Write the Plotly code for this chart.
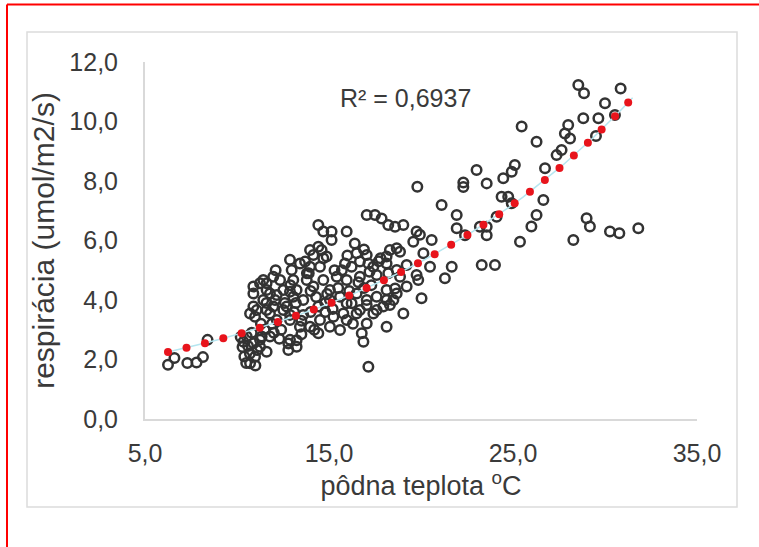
import plotly.graph_objects as go
import numpy as np

# ---- data ----
temp = [
    6.25, 6.6, 7.3, 7.8, 8.15, 8.4,
    10.2, 10.3, 10.35, 10.4, 10.5, 10.53, 10.6, 10.7, 10.71, 10.8, 10.9, 10.98, 11.0, 11.1,
    11.25, 11.25, 11.34, 11.5, 11.61, 11.79,
    10.89, 10.98, 10.71, 11.07, 11.43, 11.61, 12.07, 12.16, 12.52, 12.88, 12.16, 11.79, 11.97,
    12.79, 12.79, 12.88, 13.24, 13.24, 13.42, 13.5, 10.89, 11.43, 11.61, 10.89, 11.25, 11.61,
    11.97, 12.1, 12.34, 13.06, 12.52, 12.88, 12.7, 11.79, 12.88, 12.97, 13.42, 13.06, 12.88,
    11.3, 12.4, 12.0,
    13.97, 14.42, 14.6, 14.15, 14.69, 13.7, 13.97, 14.51, 14.87, 14.42, 14.69, 15.14, 15.14,
    15.96, 13.79, 14.15, 14.69, 15.05, 13.24, 13.6, 14.42, 15.05, 15.6, 15.96, 13.6, 13.97,
    14.42, 14.51, 15.05, 15.24, 15.6, 15.96, 14.8, 15.42, 15.96, 15.87, 13.2, 14.0, 14.8,
    15.3, 14.0,
    16.5, 17.05, 16.68, 17.14, 16.23, 17.41, 16.68, 17.59, 16.5, 17.05, 17.59, 16.68, 17.41,
    15.78, 16.5, 16.23, 17.05, 17.59, 17.05, 17.5, 17.86, 16.78, 16.87, 17.05, 17.14, 17.95,
    16.4, 16.9,
    18.22, 18.59, 19.04, 18.31, 18.68, 18.86, 18.13, 19.58, 19.76, 19.94, 18.13, 19.22, 18.68,
    18.22, 19.76, 18.86, 18.13, 18.59, 19.22, 18.68, 18.13, 18.5, 18.31, 19.04, 18.13, 19.85,
    20.03, 19.8,
    20.13, 20.49, 20.58, 21.12, 21.94, 21.94, 22.39, 21.67, 21.3, 22.3, 22.3,
    23.02, 23.57, 23.57, 23.57, 23.2, 23.3, 24.02, 24.11, 24.38, 24.74, 24.93, 24.47, 24.93,
    25.1, 25.47, 26.28, 26.74, 26.65, 26.28, 26.0, 25.38, 27.37, 27.64, 27.82, 28.0, 28.1,
    28.55, 28.86, 30.85, 30.0, 28.82, 29.64, 30.54, 29.51, 28.28, 29.0, 29.18, 30.27, 30.78,
    31.81,
    # extra points in the dense middle cluster
    11.9, 12.6, 13.1, 13.8, 14.3, 14.9, 15.5, 16.1, 16.6, 17.3, 17.8, 12.3, 13.5, 14.2,
    15.2, 16.0, 16.9, 17.7, 11.6, 12.9, 13.9, 15.7, 16.3, 17.2,
]
resp = [
    1.82, 2.05, 1.88, 1.9, 2.08, 2.66,
    2.76, 2.42, 2.6, 2.1, 1.88, 2.77, 2.45, 2.2, 1.87, 2.9, 2.55, 2.09, 1.8, 2.32,
    2.43, 2.66, 2.77, 3.0, 2.26, 2.77,
    3.78, 3.44, 3.55, 3.66, 4.0, 3.66, 4.0, 4.17, 3.66, 3.33, 3.33, 3.55, 3.78,
    2.54, 2.32, 2.66, 2.65, 2.43, 3.1, 2.85, 4.45, 4.67, 4.34, 4.22, 4.56, 4.56,
    4.78, 5.0, 4.67, 4.67, 4.34, 4.28, 3.78, 4.22, 5.35, 5.01, 5.23, 4.11, 3.5,
    3.2, 3.0, 2.9,
    5.68, 5.79, 5.68, 5.51, 5.4, 5.29, 5.12, 5.12, 5.46, 6.52, 6.3, 6.3, 6.02,
    6.3, 4.67, 4.45, 4.67, 4.34, 4.34, 4.0, 3.78, 4.0, 4.11, 3.89, 3.5, 3.1,
    2.88, 3.33, 3.1, 3.44, 2.99, 3.33, 3.6, 4.78, 4.67, 5.23, 3.9, 4.3, 3.9,
    5.0, 3.6,
    5.57, 5.51, 5.29, 5.23, 5.12, 5.12, 4.78, 4.84, 4.22, 4.0, 4.11, 3.66, 3.55,
    3.55, 3.55, 3.89, 3.83, 3.66, 6.86, 6.86, 6.74, 2.88, 2.6, 3.21, 1.76, 3.78,
    5.9, 5.7,
    6.52, 6.46, 6.52, 5.68, 5.74, 5.62, 5.46, 5.96, 6.3, 6.19, 5.23, 5.18, 5.01,
    4.9, 4.84, 4.78, 4.34, 4.39, 4.45, 4.22, 4.0, 4.0, 3.83, 3.55, 3.1, 4.67,
    4.06, 7.81,
    5.57, 5.12, 6.02, 7.19, 6.86, 6.41, 6.18, 5.12, 4.73, 7.95, 7.8,
    8.37, 7.92, 6.46, 6.18, 6.46, 5.18, 5.18, 6.8, 7.47, 7.47, 7.25, 8.09, 8.31,
    8.54, 9.83, 9.32, 8.43, 7.36, 6.86, 6.47, 5.96, 8.87, 9.04, 9.6, 9.88, 9.43,
    11.23, 10.95, 11.11, 10.61, 10.11, 10.11, 10.22, 9.51, 6.02, 6.75, 6.47, 6.3, 6.24,
    6.41,
    3.2, 3.9, 3.6, 4.9, 4.1, 4.2, 4.4, 4.3, 4.6, 4.5, 5.4, 2.7, 3.3, 3.0,
    3.7, 5.5, 4.4, 5.3, 3.9, 4.5, 4.9, 5.0, 3.2, 4.95,
]

# exponential trendline: y = A * exp(B * x)
trend_a = 1.527
trend_b = 0.0621
trend_x_range = [6.25, 31.5]
r2_text = "R² = 0,6937"

x_range = [5, 35]
y_range = [0, 12]
x_ticks = [5, 15, 25, 35]
x_tick_labels = ["5,0", "15,0", "25,0", "35,0"]
y_ticks = [0, 2, 4, 6, 8, 10, 12]
y_tick_labels = ["0,0", "2,0", "4,0", "6,0", "8,0", "10,0", "12,0"]

x_title = "pôdna teplota <sup>o</sup>C"
y_title = "respirácia (umol/m2/s)"

# ---- layout geometry (pixels) ----
W, H = 759, 547
PL, PR, PT, PB = 145, 697, 62, 419  # plot area edges
DOT_SPACING = 19.0  # px between round dots of the trendline


def px_x(p):
    return (p - PL) / (PR - PL)


def px_y(p):
    return (PB - p) / (PB - PT)


# fitted curve, then round dots placed at equal on-screen spacing along it
trend_x = np.linspace(trend_x_range[0], trend_x_range[1], 2000)
trend_y = trend_a * np.exp(trend_b * trend_x)
sx = (PR - PL) / (x_range[1] - x_range[0])
sy = (PB - PT) / (y_range[1] - y_range[0])
seg = np.hypot(np.diff(trend_x) * sx, np.diff(trend_y) * sy)
arc = np.concatenate([[0], np.cumsum(seg)])
targets = np.arange(0, arc[-1] + 0.01, DOT_SPACING)
dot_x = np.interp(targets, arc, trend_x)
dot_y = trend_a * np.exp(trend_b * dot_x)

FONT = "Liberation Sans, Arial, sans-serif"
TXT = "#3a3a3a"

fig = go.Figure()
fig.add_trace(go.Scatter(
    x=temp, y=resp, mode="markers",
    marker=dict(symbol="circle-open", size=9.5, color="#333333",
                line=dict(width=2.5, color="#333333")),
    showlegend=False, hoverinfo="skip",
))
fig.add_trace(go.Scatter(
    x=trend_x, y=trend_y, mode="lines",
    line=dict(color="#b5e6f0", width=1.5),
    showlegend=False, hoverinfo="skip",
))
fig.add_trace(go.Scatter(
    x=dot_x, y=dot_y, mode="markers",
    marker=dict(symbol="circle", size=8, color="#e8141c", line=dict(width=0)),
    showlegend=False, hoverinfo="skip",
))

fig.update_layout(
    width=W, height=H,
    margin=dict(l=PL, r=W - PR, t=PT, b=H - PB, pad=0),
    paper_bgcolor="white", plot_bgcolor="white",
    font=dict(family=FONT, color=TXT),
    xaxis=dict(
        range=x_range, tickvals=x_ticks, ticktext=x_tick_labels,
        showgrid=False, zeroline=False, showline=True, linecolor="#d9d9d9", linewidth=2,
        ticks="", ticklabelstandoff=11, tickfont=dict(size=25, color=TXT),
        title=dict(text=x_title, font=dict(size=27, color=TXT), standoff=6),
        automargin=False, fixedrange=True,
    ),
    yaxis=dict(
        range=y_range, tickvals=y_ticks, ticktext=y_tick_labels,
        showgrid=False, zeroline=False, showline=True, linecolor="#d9d9d9", linewidth=2,
        ticks="", ticklabelstandoff=20, tickfont=dict(size=25, color=TXT),
        title=dict(text=y_title, font=dict(size=30, color=TXT), standoff=6),
        automargin=False, fixedrange=True,
    ),
    annotations=[dict(
        text=r2_text, xref="paper", yref="paper", x=px_x(405), y=px_y(98),
        xanchor="center", yanchor="middle", showarrow=False,
        font=dict(size=25, color=TXT, family=FONT),
    )],
    shapes=[
        # light chart-area border
        dict(type="rect", xref="paper", yref="paper",
             x0=px_x(27), x1=px_x(737), y0=px_y(507), y1=px_y(32),
             line=dict(color="#dcdcdc", width=1.5), layer="below"),
        # red frame (top and left edges)
        dict(type="line", xref="paper", yref="paper",
             x0=px_x(7), x1=px_x(770), y0=px_y(4.5), y1=px_y(4.5),
             line=dict(color="#ff0000", width=2)),
        dict(type="line", xref="paper", yref="paper",
             x0=px_x(7), x1=px_x(7), y0=px_y(4.5), y1=px_y(560),
             line=dict(color="#ff0000", width=2)),
    ],
)

fig.write_html("out.html", config={"displayModeBar": False},
               post_script="document.body.style.margin='0';")
